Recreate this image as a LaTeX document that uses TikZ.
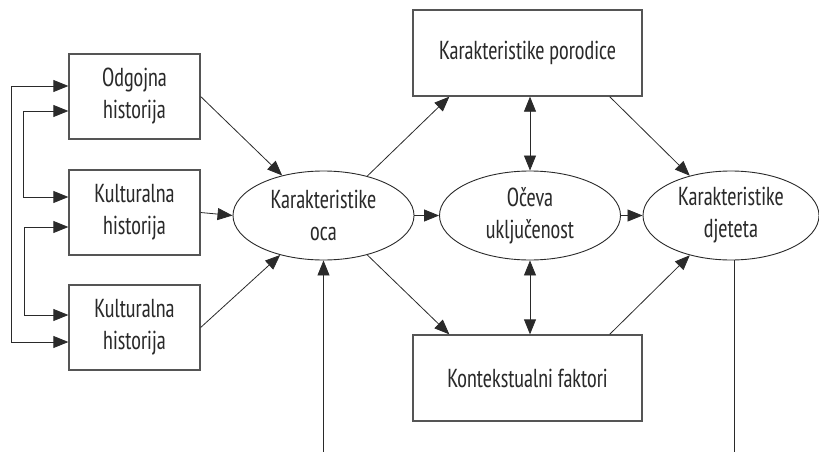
\documentclass[tikz,border=0pt]{standalone}
\usepackage{fontspec}
\setmainfont{PT Sans Narrow}[FakeStretch=0.86]
\usetikzlibrary{arrows.meta,shapes.geometric,calc}
\definecolor{ln}{HTML}{2A2A2A}
\definecolor{bx}{HTML}{555555}
\tikzset{
  boxnode/.style={draw=bx,line width=1.3pt,rectangle,inner sep=0pt,align=center,font=\fontsize{26}{32}\selectfont,text=ln},
  ellnode/.style={draw=ln,line width=0.9pt,ellipse,inner sep=0pt,minimum width=181pt,minimum height=89pt,align=center,font=\fontsize{26}{32}\selectfont,text=ln},
  arr/.style={draw=ln,line width=0.8pt,-{Triangle[length=15pt,width=12pt]}},
  darr/.style={draw=ln,line width=0.8pt,{Triangle[length=15pt,width=12pt]}-{Triangle[length=15pt,width=12pt]}},
  plain/.style={draw=ln,line width=0.8pt}
}
\begin{document}
\begin{tikzpicture}[x=1pt,y=-1pt]
\useasboundingbox (0,0) rectangle (819,452);
% left boxes
\node[boxnode,minimum width=131pt,minimum height=85pt] (odg) at (134.5,96.5) {Odgojna\\historija};
\node[boxnode,minimum width=131pt,minimum height=85pt] (k1) at (134.5,212.5) {Kulturalna\\historija};
\node[boxnode,minimum width=131pt,minimum height=85pt] (k2) at (134.5,327.5) {Kulturalna\\historija};
% right boxes
\node[boxnode,minimum width=229pt,minimum height=86pt] (por) at (527.5,53) {Karakteristike porodice};
\node[boxnode,minimum width=229pt,minimum height=86pt] (kont) at (527.5,378) {Kontekstualni faktori};
% ellipses
\node[ellnode] (oca) at (323.5,215.5) {Karakteristike\\oca};
\node[ellnode] (oc) at (530,215.5) {Očeva\\uključenost};
\node[ellnode,minimum width=176pt] (dj) at (731,215.5) {Karakteristike\\djeteta};
% free ends
\coordinate (b1) at (323.5,452);
\coordinate (b2) at (734,452);
% left feedback connectors
\draw[darr] (k2.west |- 0,342) -- (11,342) -- (11,86) -- (odg.west |- 0,86);
\draw[darr] (k1.west |- 0,197) -- (23,197) -- (23,111) -- (odg.west |- 0,111);
\draw[darr] (k2.west |- 0,315) -- (24,315) -- (24,227) -- (k1.west |- 0,227);
% into oca
\draw[arr] (odg.east) -- (oca);
\draw[arr] (k1.east) -- (oca.west);
\draw[arr] (k2.east) -- (oca);
\draw[arr] (b1) -- (oca.south);
% from oca
\draw[arr] (oca.42) -- ([xshift=37pt]por.south west);
\draw[arr] (oca.-42) -- ([xshift=37pt]kont.north west);
\draw[arr] (oca.east) -- (oc.west);
% oc
\draw[darr] (oc.north |- por.south) -- (oc.north);
\draw[darr] (oc.south) -- (oc.south |- kont.north);
\draw[arr] (oc.east) -- (dj.west);
% into dj
\draw[arr] ([xshift=-33pt]por.south east) -- (dj.136);
\draw[arr] ([xshift=-33pt]kont.north east) -- (dj.-136);
\draw[plain] (dj.south -| b2) -- (b2);
\end{tikzpicture}
\end{document}
